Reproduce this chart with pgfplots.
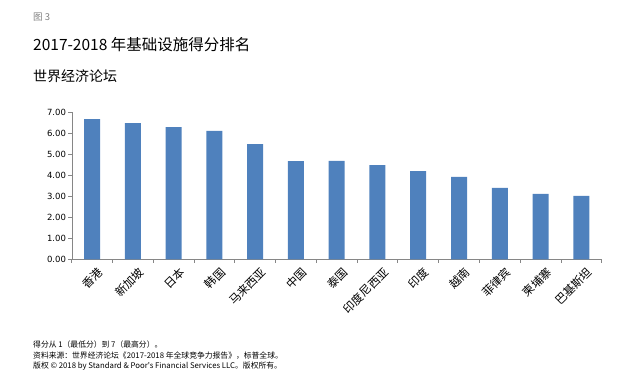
\documentclass[border=0pt]{standalone}
\usepackage{pgfplots}
\pgfplotsset{compat=1.18}
\usepackage{fontspec}
\setmainfont{DejaVu Sans}
\newfontfamily\cjk{Noto Sans CJK SC}
\definecolor{barblue}{HTML}{4F81BD}
\definecolor{axgray}{HTML}{868686}
\definecolor{txtgray}{HTML}{808080}
\begin{document}
\begin{tikzpicture}
\useasboundingbox (0bp,0bp) rectangle (627bp,-385bp);
\node[anchor=west,inner sep=0pt,text=txtgray,font=\cjk\fontsize{9.5bp}{11bp}\selectfont] at (33bp,-17bp) {图 3};
\node[anchor=west,inner sep=0pt,font=\cjk\fontsize{15.5bp}{18bp}\selectfont] at (33bp,-45bp) {2017-2018 年基础设施得分排名};
\node[anchor=west,inner sep=0pt,font=\cjk\fontsize{14bp}{16bp}\selectfont] at (33bp,-76bp) {世界经济论坛};
\node[anchor=west,inner sep=0pt,font=\cjk\fontsize{7.8bp}{10bp}\selectfont] at (33bp,-345bp) {得分从 1（最低分）到 7（最高分）。};
\node[anchor=west,inner sep=0pt,font=\cjk\fontsize{7.8bp}{10bp}\selectfont] at (33bp,-355.5bp) {资料来源：世界经济论坛《2017-2018 年全球竞争力报告》，标普全球。};
\node[anchor=west,inner sep=0pt,font=\cjk\fontsize{7.8bp}{10bp}\selectfont] at (33bp,-366.5bp) {版权 © 2018 by Standard \& Poor's Financial Services LLC。版权所有。};
\begin{axis}[
  at={(71.7bp,-259.3bp)}, anchor=south west,
  scale only axis, width=530bp, height=147bp,
  xmin=-0.5, xmax=12.5, ymin=0, ymax=7,
  ybar, bar width=16bp,
  axis x line*=bottom, axis y line*=left,
  axis line style={axgray},
  xtick={0,...,12},
  xticklabels={香港,新加坡,日本,韩国,马来西亚,中国,泰国,印度尼西亚,印度,越南,菲律宾,柬埔寨,巴基斯坦},
  major x tick style={draw=none},
  minor xtick={-0.5,0.5,...,12.5},
  ytick={0,1,...,7},
  tick align=outside,
  tick style={axgray, line width=0.8pt},
  major tick length=3.5bp, minor tick length=3.5bp,
  yticklabel={\pgfmathprintnumber[fixed,fixed zerofill,precision=2]{\tick}},
  /pgf/number format/assume math mode=true,
  yticklabel style={font=\fontsize{8.5bp}{10bp}\selectfont, text=black, inner sep=2bp},
  xticklabel style={rotate=45, anchor=north east, font=\cjk\fontsize{11.5bp}{13bp}\selectfont, inner sep=1bp, yshift=-5bp, xshift=2bp},
  enlarge x limits=false,
]
\addplot[fill=barblue, draw=none] coordinates {
(0,6.68) (1,6.49) (2,6.30) (3,6.11) (4,5.49) (5,4.68) (6,4.69) (7,4.49) (8,4.20) (9,3.92) (10,3.40) (11,3.11) (12,3.02)
};
\end{axis}
\end{tikzpicture}
\end{document}
